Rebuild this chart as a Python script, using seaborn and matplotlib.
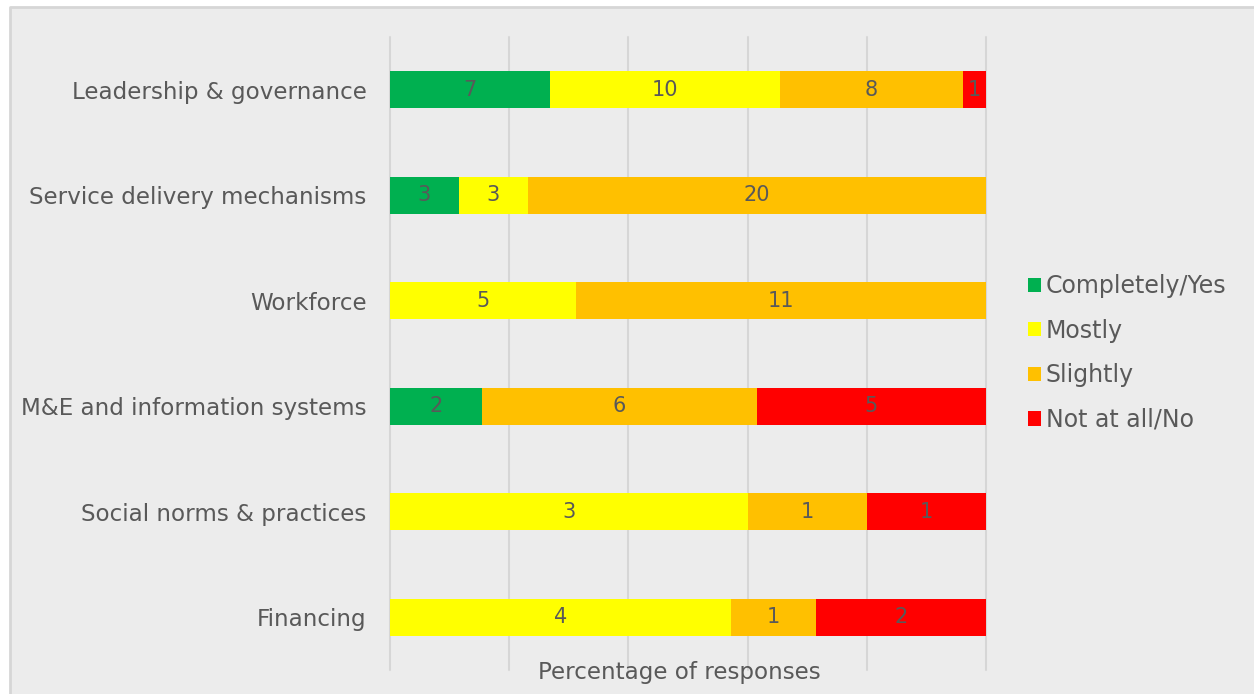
import numpy as np
import pandas as pd
import matplotlib
matplotlib.use("Agg")
import matplotlib.pyplot as plt
from matplotlib.patches import Patch, Rectangle
from matplotlib.lines import Line2D
import seaborn as sns

# Survey categories (top to bottom) and response counts per answer level
categories = [
    "Leadership & governance",
    "Service delivery mechanisms",
    "Workforce",
    "M&E and information systems",
    "Social norms & practices",
    "Financing",
]
levels = ["Completely/Yes", "Mostly", "Slightly", "Not at all/No"]
completely = [7, 3, 0, 2, 0, 0]
mostly = [10, 3, 5, 0, 3, 4]
slightly = [8, 20, 11, 6, 1, 1]
not_at_all = [1, 0, 0, 5, 1, 2]
colors = ["#00b050", "#ffff00", "#ffc000", "#ff0000"]
grid_ticks = [0, 20, 40, 60, 80, 100]

TEXT = "#595959"
BG = "#ececec"
FONT = "DejaVu Sans"

sns.set_theme(style="white")
plt.rcParams["font.family"] = [FONT]

counts = np.array([completely, mostly, slightly, not_at_all], dtype=float)
totals = counts.sum(axis=0)
pct = counts / totals * 100
cum = np.cumsum(pct, axis=0)

fig = plt.figure(figsize=(12.54, 6.94), dpi=100, facecolor="white")
W, H = 1254, 694
x0, y1 = 10 / W, 1 - 7 / H
# Grey chart area with a border on its left and top edges only
fig.patches.append(Rectangle((x0, 0), 1 - x0, y1, transform=fig.transFigure,
                             facecolor=BG, edgecolor="none", zorder=-5))
fig.lines.append(Line2D([x0, x0, 1], [0, y1, y1], transform=fig.transFigure,
                        color="#d6d6d6", linewidth=2, zorder=-4))

ax = fig.add_axes([390 / W, 1 - 670 / H, (986 - 390) / W, (670 - 37) / H])
ax.set_facecolor("none")

# Stacked bars: draw cumulative totals from the widest down, each over the last
for i in range(len(levels) - 1, -1, -1):
    df = pd.DataFrame({"category": categories, "value": cum[i]})
    sns.barplot(data=df, x="value", y="category", orient="h", color=colors[i],
                saturation=1, width=0.35, ax=ax, zorder=2, linewidth=0)

# Count labels at the centre of each segment
for i in range(len(levels)):
    for j in range(len(categories)):
        if counts[i, j] > 0:
            start = cum[i, j] - pct[i, j]
            ax.text(start + pct[i, j] / 2, j, f"{int(counts[i, j])}",
                    ha="center", va="center", fontsize=15, color=TEXT, zorder=3)

ax.set_xlim(0, 100)
ax.set_ylim(5.5, -0.5)
ax.set_xticks(grid_ticks)
ax.xaxis.grid(True, color="#d6d6d6", linewidth=1.5, zorder=0)
for gl in ax.get_xgridlines():
    gl.set_clip_on(False)
ax.set_axisbelow(True)
ax.tick_params(axis="x", length=0, labelbottom=False)
ax.tick_params(axis="y", length=0, labelsize=16.6, labelcolor=TEXT, pad=17)
ax.set_ylabel("")
ax.set_xlabel("Percentage of responses", fontsize=16.6, color=TEXT)
ax.xaxis.set_label_coords(0.485, 0.014)
ax.xaxis.label.set_verticalalignment("top")
for s in ax.spines.values():
    s.set_visible(False)

handles = [Patch(facecolor=c, edgecolor="none", label=l) for c, l in zip(colors, levels)]
leg = fig.legend(handles=handles, loc="center left",
                 bbox_to_anchor=(1007 / W, 1 - 353 / H), frameon=False,
                 fontsize=17, handlelength=0.55, handleheight=0.55,
                 handletextpad=0.2, labelspacing=0.87)
for t in leg.get_texts():
    t.set_color(TEXT)

fig.savefig("out.png", dpi=100, facecolor="white")
